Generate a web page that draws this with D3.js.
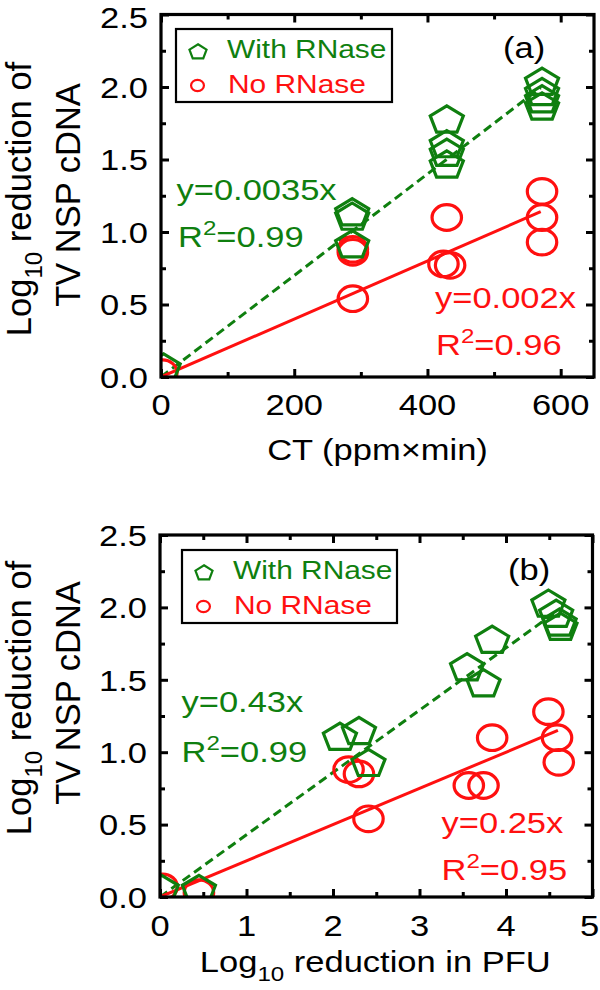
<!DOCTYPE html>
<html><head><meta charset="utf-8">
<script src="https://cdn.jsdelivr.net/npm/d3@7"></script>
<style>body{margin:0;background:#fff} svg{display:block}</style>
</head><body>
<svg id="c" width="600" height="990"></svg>
<script>
// ---------------- data ----------------
const yTicks = [0, 0.5, 1.0, 1.5, 2.0, 2.5];
const yMinor = [0.25, 0.75, 1.25, 1.75, 2.25];
const xTicksA = [0, 200, 400, 600];
const xMinorA = [100, 300, 500];
const xTicksB = [0, 1, 2, 3, 4, 5];
const xMinorB = [0.5, 1.5, 2.5, 3.5, 4.5];

// Panel (a): CT (ppm x min) vs log10 reduction
const aWithX = [4, 287, 287, 287, 429, 429, 429, 429, 572, 572, 572, 572];
const aWithY = [0.06, 1.13, 1.10, 0.91, 1.77, 1.60, 1.54, 1.46, 2.03, 1.96, 1.91, 1.86];
const aNoX = [2, 288, 288, 288, 429, 424, 434, 572, 572, 572];
const aNoY = [0.03, 0.88, 0.86, 0.54, 1.10, 0.78, 0.77, 1.28, 1.10, 0.93];
const aSlopes = [0.0035, 0.002];   // with, no
const aFitEnd = 570;

// Panel (b): log10 reduction in PFU vs log10 reduction
const bWithX = [0.02, 0.45, 2.08, 2.30, 2.41, 3.84, 3.55, 3.74, 4.49, 4.58, 4.62, 4.63];
const bWithY = [0.05, 0.05, 1.10, 1.14, 0.92, 1.77, 1.58, 1.47, 2.02, 1.95, 1.89, 1.86];
const bNoX = [0.03, 0.45, 2.18, 2.30, 2.41, 3.84, 3.57, 3.74, 4.49, 4.59, 4.61];
const bNoY = [0.07, 0.03, 0.88, 0.85, 0.54, 1.10, 0.77, 0.77, 1.28, 1.10, 0.93];
const bSlopes = [0.43, 0.25];
const bFitEnd = 4.6;

const legendLabels = ["With RNase", "No RNase"];
const eqA = [["y=0.0035x"], ["R", "2", "=0.99"], ["y=0.002x"], ["R", "2", "=0.96"]];
const eqB = [["y=0.43x"], ["R", "2", "=0.99"], ["y=0.25x"], ["R", "2", "=0.95"]];

// ---------------- style ----------------
const GREEN = "#0f7f0f", RED = "#ff1010";
const FONT = "'Liberation Sans', Arial, Helvetica, sans-serif";
const SX = 1.15;
const svg = d3.select("#c");

function addText(g, x, y, parts, o) {
  const t = g.append("text")
    .attr("transform", o.rotate ? `translate(${x},${y}) rotate(-90)` : `translate(${x},${y}) scale(${o.sx ?? SX},1)`)
    .attr("font-family", FONT).attr("font-size", o.size)
    .attr("fill", o.fill || "#000")
    .attr("text-anchor", o.anchor || "start");
  let shift = 0;
  parts.forEach(p => {
    const [s, mode] = Array.isArray(p) ? p : [p, null];
    let target = 0, fs = o.size;
    if (mode === "sub") { target = o.size * 0.33; fs = o.size * 0.7; }
    if (mode === "sup") { target = -o.size * 0.4; fs = o.size * 0.7; }
    t.append("tspan").attr("dy", target - shift).attr("font-size", fs).text(s);
    shift = target;
  });
  return t;
}

function pentagon(cx, cy, r, sx) {
  const pts = d3.range(5).map(k => {
    const a = (-90 + k * 72) * Math.PI / 180;
    return [cx + sx * r * Math.cos(a), cy + r * Math.sin(a)];
  });
  return "M" + pts.map(p => p.join(",")).join("L") + "Z";
}

function panel(cfg) {
  const x = d3.scaleLinear().domain(cfg.xDomain).range([cfg.left, cfg.right]);
  const y = d3.scaleLinear().domain([0, 2.5]).range([cfg.bottom, cfg.top]);
  const g = svg.append("g");
  const clipId = "clip" + cfg.id;
  svg.append("clipPath").attr("id", clipId).append("rect")
    .attr("x", cfg.left).attr("y", cfg.top)
    .attr("width", cfg.right - cfg.left).attr("height", cfg.bottom - cfg.top);
  const plot = g.append("g").attr("clip-path", `url(#${clipId})`);

  // fit lines
  plot.append("line")
    .attr("x1", x(0)).attr("y1", y(0))
    .attr("x2", x(cfg.fitEnd)).attr("y2", y(cfg.slopes[0] * cfg.fitEnd))
    .attr("stroke", GREEN).attr("stroke-width", 3).attr("stroke-dasharray", "9,5");
  plot.append("line")
    .attr("x1", x(0)).attr("y1", y(0))
    .attr("x2", x(cfg.fitEnd)).attr("y2", y(cfg.slopes[1] * cfg.fitEnd))
    .attr("stroke", RED).attr("stroke-width", 3);

  // markers
  const noData = cfg.noX.map((v, i) => [v, cfg.noY[i]]);
  const withData = cfg.withX.map((v, i) => [v, cfg.withY[i]]);
  plot.selectAll(".no").data(noData).join("ellipse")
    .attr("cx", d => x(d[0])).attr("cy", d => y(d[1]))
    .attr("rx", 12.8 * SX).attr("ry", 12.8)
    .attr("fill", "none").attr("stroke", RED).attr("stroke-width", 3.2);
  plot.selectAll(".with").data(withData).join("path")
    .attr("d", d => pentagon(x(d[0]), y(d[1]), 14.5, 1.2))
    .attr("fill", "none").attr("stroke", GREEN).attr("stroke-width", 3.2)
    .attr("stroke-linejoin", "miter");

  // ticks (inward, all four sides)
  const tk = (axis, vals, size, tr) => {
    const a = g.append("g").attr("transform", tr)
      .call(axis.tickValues(vals).tickSize(-size).tickFormat(""));
    a.select(".domain").remove();
    a.selectAll("line").attr("stroke", "#000").attr("stroke-width", 3);
  };
  tk(d3.axisBottom(x), cfg.xTicks, 8, `translate(0,${cfg.bottom})`);
  tk(d3.axisBottom(x), cfg.xMinor, 5, `translate(0,${cfg.bottom})`);
  tk(d3.axisTop(x), cfg.xTicks, 8, `translate(0,${cfg.top})`);
  tk(d3.axisTop(x), cfg.xMinor, 5, `translate(0,${cfg.top})`);
  tk(d3.axisLeft(y), yTicks, 8, `translate(${cfg.left},0)`);
  tk(d3.axisLeft(y), yMinor, 5, `translate(${cfg.left},0)`);
  tk(d3.axisRight(y), yTicks, 8, `translate(${cfg.right},0)`);
  tk(d3.axisRight(y), yMinor, 5, `translate(${cfg.right},0)`);

  g.append("rect").attr("x", cfg.left).attr("y", cfg.top)
    .attr("width", cfg.right - cfg.left).attr("height", cfg.bottom - cfg.top)
    .attr("fill", "none").attr("stroke", "#000").attr("stroke-width", 3.2);

  // tick labels
  yTicks.forEach(v => {
    const yy = Math.max(y(v) + 10.7, 27.5);
    addText(g, cfg.yLabelRight, yy, [v.toFixed(1)], {size: 30, anchor: "end"});
  });
  cfg.xTicks.forEach(v => addText(g, Math.min(x(v), 589.5), cfg.xLabelBase, [String(v)], {size: 30, anchor: "middle"}));

  // axis titles
  addText(g, (cfg.left + cfg.right) / 2 + cfg.xTitleDx, cfg.xTitleBase, cfg.xTitle, {size: 30, anchor: "middle"});
  addText(g, 31, cfg.yT1, ["Log", ["10", "sub"], " reduction of"], {size: 34.5, anchor: "middle", rotate: true});
  addText(g, 80, cfg.yT2, ["TV NSP cDNA"], {size: 34.5, anchor: "middle", rotate: true});

  // legend
  const L = cfg.legend;
  g.append("rect").attr("x", L.x).attr("y", L.y).attr("width", L.w).attr("height", L.h)
    .attr("fill", "#fff").attr("stroke", "#000").attr("stroke-width", 2.2);
  g.append("path").attr("d", pentagon(L.x + 22, L.y + 23, 7.8, SX))
    .attr("fill", "none").attr("stroke", GREEN).attr("stroke-width", 2.2);
  g.append("ellipse").attr("cx", L.x + 21.5).attr("cy", L.y + 56.5).attr("rx", 5.6 * SX).attr("ry", 5.6)
    .attr("fill", "none").attr("stroke", RED).attr("stroke-width", 2.2);
  addText(g, L.x + 51, L.y + 28.5, [legendLabels[0]], {size: 26, fill: GREEN});
  addText(g, L.x + 52, L.y + 63.5, [legendLabels[1]], {size: 26, fill: RED});

  // equations
  const fix = p => p.length === 3 ? [p[0], [p[1], "sup"], p[2]] : p;
  cfg.eqPos.forEach((pos, i) => {
    addText(g, pos[0], pos[1], fix(cfg.eq[i]), {size: 30, fill: i < 2 ? GREEN : RED});
  });
  addText(g, cfg.tag[0], cfg.tag[1], [cfg.tag[2]], {size: 30});
}

panel({
  id: "a", xDomain: [0, 650], left: 161, right: 594, top: 14.5, bottom: 377,
  xTicks: xTicksA, xMinor: xMinorA,
  withX: aWithX, withY: aWithY, noX: aNoX, noY: aNoY, slopes: aSlopes, fitEnd: aFitEnd,
  yLabelRight: 148, xLabelBase: 415, xTitle: ["CT (ppm×min)"], xTitleBase: 460, xTitleDx: 0,
  yT1: 199, yT2: 195,
  legend: {x: 176, y: 29, w: 216, h: 73},
  eq: eqA, eqPos: [[176.5, 200], [178, 246.5], [435, 308], [436, 355]],
  tag: [503, 58, "(a)"]
});
panel({
  id: "b", xDomain: [0, 5], left: 160, right: 592.5, top: 535, bottom: 897,
  xTicks: xTicksB, xMinor: xMinorB,
  withX: bWithX, withY: bWithY, noX: bNoX, noY: bNoY, slopes: bSlopes, fitEnd: bFitEnd,
  yLabelRight: 147, xLabelBase: 936, xTitle: ["Log", ["10", "sub"], " reduction in PFU"], xTitleBase: 971.5, xTitleDx: -1,
  yT1: 698, yT2: 693,
  legend: {x: 182, y: 550, w: 215, h: 73},
  eq: eqB, eqPos: [[181.5, 711.5], [181.5, 761.5], [441.5, 833], [441.5, 880]],
  tag: [508, 580, "(b)"]
});
</script>
</body></html>
